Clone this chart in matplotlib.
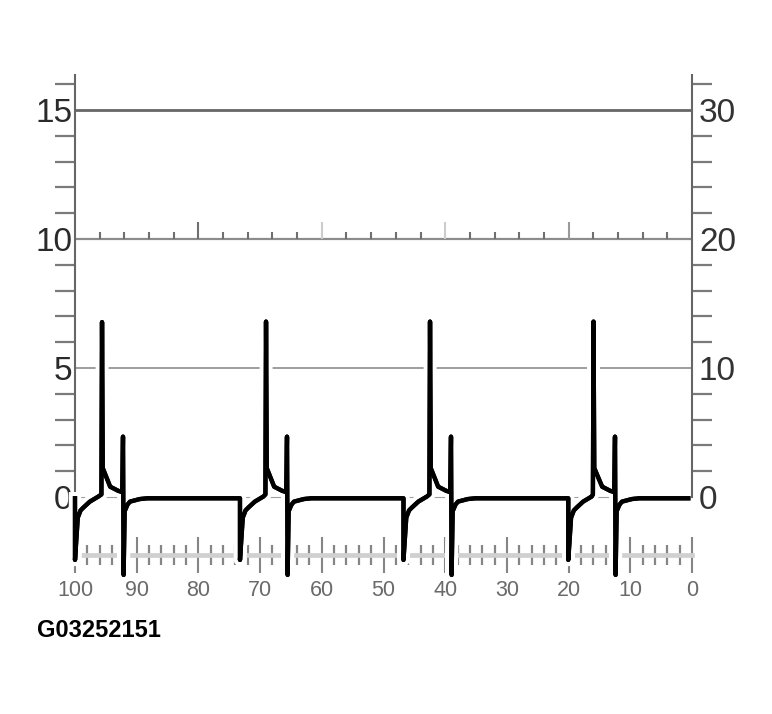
import matplotlib
matplotlib.use("Agg")
import matplotlib.pyplot as plt
import matplotlib.patheffects as pe
import numpy as np

plt.rcParams['font.family'] = ['Liberation Sans', 'DejaVu Sans']

# ---- data ----
trace_x = [
    # cycle 1
    100.0, 100.0, 99.55, 99.1, 98.6, 97.6, 96.2, 95.72, 95.62, 95.5, 94.3, 93.0, 92.35, 92.22, 92.12,
    91.95, 91.5, 91.1, 89.5, 88.3,
    # cycle 2
    73.26, 73.26, 72.81, 72.36, 71.86, 70.86, 69.46, 69.14, 69.04, 68.92, 67.72, 66.42, 65.77, 65.64, 65.54,
    65.37, 64.92, 64.52, 62.92, 61.72,
    # cycle 3
    46.76, 46.76, 46.31, 45.86, 45.36, 44.36, 42.96, 42.56, 42.46, 42.34, 41.14, 39.84, 39.19, 39.06, 38.96,
    38.79, 38.34, 37.94, 36.34, 35.14,
    # cycle 4
    20.05, 20.05, 19.6, 19.15, 18.65, 17.65, 16.25, 16.06, 15.96, 15.84, 14.56, 13.26, 12.61, 12.48, 12.38,
    12.21, 11.76, 11.36, 9.76, 8.56,
    0.6,
]
trace_y = [
    -0.05, -2.44, -0.80, -0.52, -0.40, -0.18, 0.02, 0.10, 6.78, 1.12, 0.40, 0.24, 0.19, 2.34, -3.02,
    -0.55, -0.30, -0.18, -0.08, -0.05,
    -0.05, -2.44, -0.80, -0.52, -0.40, -0.18, 0.02, 0.10, 6.80, 1.12, 0.40, 0.24, 0.19, 2.34, -3.02,
    -0.55, -0.30, -0.18, -0.08, -0.05,
    -0.05, -2.44, -0.80, -0.52, -0.40, -0.18, 0.02, 0.10, 6.80, 1.12, 0.40, 0.24, 0.19, 2.34, -3.02,
    -0.55, -0.30, -0.18, -0.08, -0.05,
    -0.05, -2.44, -0.80, -0.52, -0.40, -0.18, 0.02, 0.10, 6.80, 1.12, 0.40, 0.24, 0.19, 2.34, -3.02,
    -0.55, -0.30, -0.18, -0.08, -0.05,
    -0.05,
]
left_ticks = [0, 5, 10, 15]
right_ticks = [0, 10, 20, 30]
x_ticks = [100, 90, 80, 70, 60, 50, 40, 30, 20, 10, 0]
caption = "G03252151"

# ---- layout ----
W, H = 772, 714
y_top_val = (497 - 75) / 25.8
y_bot_val = -3.4
bot_px = 497 - 25.8 * y_bot_val
fig = plt.figure(figsize=(W / 100, H / 100), dpi=100)
ax = fig.add_axes([75 / W, 1 - bot_px / H, (692 - 75) / W, (bot_px - 75) / H])
ax.set_xlim(100, 0)
ax.set_ylim(y_bot_val, y_top_val)

# spines
for s in ['top', 'right']:
    ax.spines[s].set_visible(False)
ax.spines['left'].set_bounds(0, y_top_val)
ax.spines['left'].set_color('#666666')
ax.spines['left'].set_linewidth(1.5)
ax.spines['bottom'].set_position(('data', -2.25))
ax.spines['bottom'].set_color('#d0d0d0')
ax.spines['bottom'].set_linewidth(3.4)

# left ticks
ax.set_yticks(left_ticks)
ax.set_yticklabels([str(t) for t in left_ticks])
left_minor = [v for v in range(1, 17) if v % 5 != 0]
ax.set_yticks(left_minor, minor=True)
ax.tick_params(axis='y', which='major', length=0, pad=2, labelsize=24, labelcolor='#2a2a2a')
ax.tick_params(axis='y', which='minor', direction='out', length=14.4, width=1.6, color='#7a7a7a')
for v, t in zip(left_minor, ax.yaxis.get_minor_ticks()):
    if v in {16, 11, 2}:
        t.tick1line.set_color('#c8c8c8')

# bottom ticks
ax.set_xticks(x_ticks)
ax.set_xticklabels([str(t) for t in x_ticks])
minor_vals = [v for v in range(2, 100, 2) if v % 10 != 0]
ax.set_xticks(minor_vals, minor=True)
ax.tick_params(axis='x', which='major', direction='inout', length=26, width=1.5, color='#858585',
               pad=5, labelsize=15.5, labelcolor='#6a6a6a')
ax.tick_params(axis='x', which='minor', direction='inout', length=14, width=1.6, color='#858585')
for v, t in zip(x_ticks, ax.xaxis.get_major_ticks()):
    if v in {90, 20, 10}:
        t.tick1line.set_color('#c4c4c4')
for v, t in zip(minor_vals, ax.xaxis.get_minor_ticks()):
    if v in {88, 62, 58, 36, 28, 24, 18, 16}:
        t.tick1line.set_color('#c4c4c4')

# right axis
ax2 = ax.twinx()
ax2.set_ylim(2 * y_bot_val, 2 * y_top_val)
for s in ['top', 'left', 'bottom']:
    ax2.spines[s].set_visible(False)
ax2.spines['right'].set_bounds(0, 2 * y_top_val)
ax2.spines['right'].set_color('#666666')
ax2.spines['right'].set_linewidth(1.5)
ax2.set_yticks(right_ticks)
ax2.set_yticklabels([str(t) for t in right_ticks])
r_minor = [v for v in range(2, 33, 2) if v % 10 != 0]
ax2.set_yticks(r_minor, minor=True)
ax2.tick_params(axis='y', which='major', length=0, pad=5, labelsize=24, labelcolor='#333333')
ax2.tick_params(axis='y', which='minor', direction='out', length=14.4, width=1.6, color='#7a7a7a')
for v, t in zip(r_minor, ax2.yaxis.get_minor_ticks()):
    if v in {32, 24, 18, 4}:
        t.tick2line.set_color('#c8c8c8')

# grid lines
ax.axhline(15, color='#666666', lw=2.0, zorder=1)
ax.axhline(10, color='#8c8c8c', lw=1.6, zorder=1)
ax.axhline(5, color='#8c8c8c', lw=1.2, zorder=1)
ax.axhline(0, color='#a0a0a0', lw=0.8, zorder=1)
# small ticks on the 10 line
mid_minor = [v for v in range(96, 0, -4) if v % 20 != 0]
mid_major = [80, 60, 40, 20]
ax.vlines(mid_minor, 10, 10.27, colors='#6f6f6f', lw=1.5, zorder=1)
ax.vlines(mid_major, 10, 10.66, colors=['#6f6f6f', '#cccccc', '#cccccc', '#9a9a9a'], lw=1.5, zorder=1)

# trace
ax.plot(trace_x, trace_y, color='black', lw=3.1, solid_joinstyle='round', zorder=6, clip_on=False,
        path_effects=[pe.withStroke(linewidth=9, foreground='white'), pe.Normal()])

fig.text(37 / W, 1 - 637 / H, caption, fontsize=17, fontweight='bold', color='black',
         ha='left', va='baseline')

fig.savefig('out.png', dpi=100)
